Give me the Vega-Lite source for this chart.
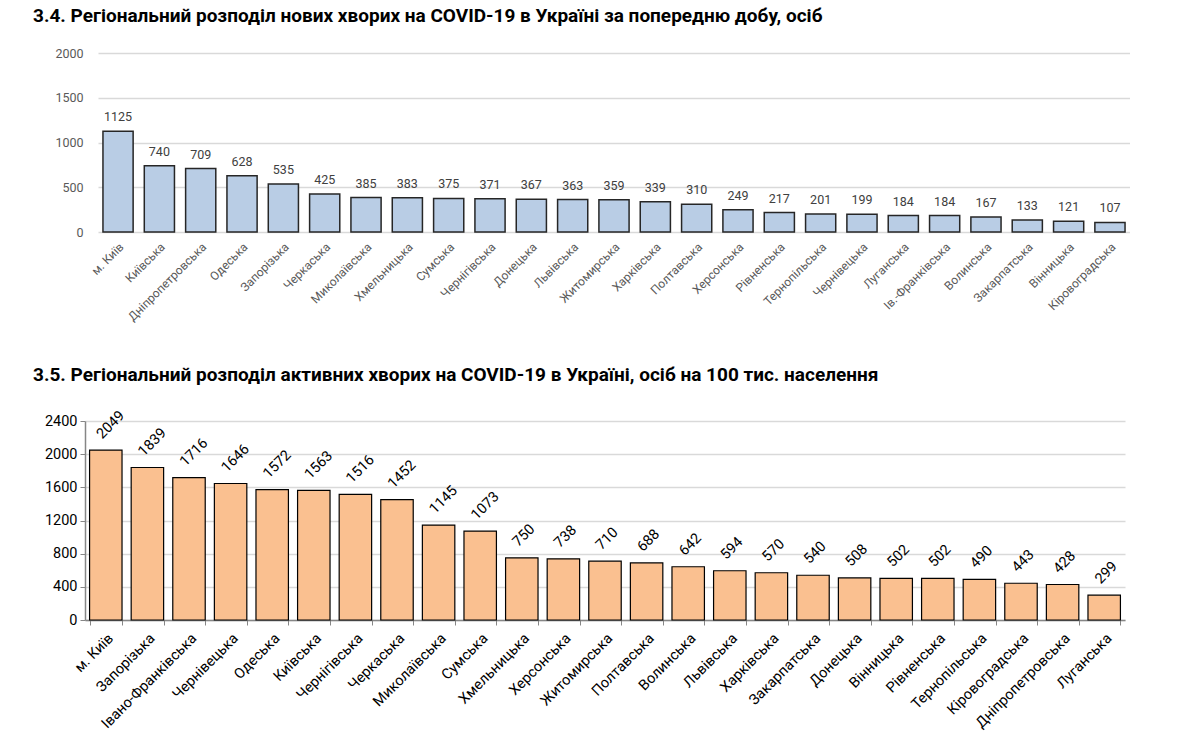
{
  "$schema": "https://vega.github.io/schema/vega-lite/v6.json",
  "padding": {"left": 33, "top": 7, "right": 0, "bottom": 0},
  "background": "white",
  "spacing": 42,
  "config": {
    "view": {"stroke": null},
    "font": "Roboto",
    "title": {"anchor": "start", "frame": "group", "fontSize": 19, "fontWeight": "bold", "color": "#000000"}
  },
  "datasets": {
    "newCases": [
      {"region": "м. Київ", "value": 1125},
      {"region": "Київська", "value": 740},
      {"region": "Дніпропетровська", "value": 709},
      {"region": "Одеська", "value": 628},
      {"region": "Запорізька", "value": 535},
      {"region": "Черкаська", "value": 425},
      {"region": "Миколаївська", "value": 385},
      {"region": "Хмельницька", "value": 383},
      {"region": "Сумська", "value": 375},
      {"region": "Чернігівська", "value": 371},
      {"region": "Донецька", "value": 367},
      {"region": "Львівська", "value": 363},
      {"region": "Житомирська", "value": 359},
      {"region": "Харківська", "value": 339},
      {"region": "Полтавська", "value": 310},
      {"region": "Херсонська", "value": 249},
      {"region": "Рівненська", "value": 217},
      {"region": "Тернопільська", "value": 201},
      {"region": "Чернівецька", "value": 199},
      {"region": "Луганська", "value": 184},
      {"region": "Ів.-Франківська", "value": 184},
      {"region": "Волинська", "value": 167},
      {"region": "Закарпатська", "value": 133},
      {"region": "Вінницька", "value": 121},
      {"region": "Кіровоградська", "value": 107}
    ],
    "active": [
      {"region": "м. Київ", "value": 2049},
      {"region": "Запорізька", "value": 1839},
      {"region": "Івано-Франківська", "value": 1716},
      {"region": "Чернівецька", "value": 1646},
      {"region": "Одеська", "value": 1572},
      {"region": "Київська", "value": 1563},
      {"region": "Чернігівська", "value": 1516},
      {"region": "Черкаська", "value": 1452},
      {"region": "Миколаївська", "value": 1145},
      {"region": "Сумська", "value": 1073},
      {"region": "Хмельницька", "value": 750},
      {"region": "Херсонська", "value": 738},
      {"region": "Житомирська", "value": 710},
      {"region": "Полтавська", "value": 688},
      {"region": "Волинська", "value": 642},
      {"region": "Львівська", "value": 594},
      {"region": "Харківська", "value": 570},
      {"region": "Закарпатська", "value": 540},
      {"region": "Донецька", "value": 508},
      {"region": "Вінницька", "value": 502},
      {"region": "Рівненська", "value": 502},
      {"region": "Тернопільська", "value": 490},
      {"region": "Кіровоградська", "value": 443},
      {"region": "Дніпропетровська", "value": 428},
      {"region": "Луганська", "value": 299}
    ]
  },
  "vconcat": [
    {
      "title": {"text": "3.4.  Регіональний розподіл нових хворих на COVID-19 в Україні за попередню добу, осіб", "dx": -52, "offset": 21},
      "width": 1045,
      "height": 179,
      "data": {"name": "newCases"},
      "encoding": {
        "x": {
          "field": "region", "type": "nominal", "sort": null,
          "scale": {"range": [13, 1045], "paddingInner": 0.27, "paddingOuter": 0.12},
          "axis": {"title": null, "labelAngle": -45, "labelColor": "#595959", "labelFontSize": 12, "ticks": false, "domain": false, "labelPadding": 9}
        },
        "y": {
          "field": "value", "type": "quantitative",
          "scale": {"domain": [0, 2000]},
          "axis": {"title": null, "format": "d", "values": [0, 500, 1000, 1500, 2000], "domain": false, "ticks": false, "labelColor": "#595959", "labelFontSize": 12.5, "labelPadding": 2, "gridColor": "#d9d9d9", "gridWidth": 1.5}
        }
      },
      "layer": [
        {"mark": {"type": "bar", "fill": "#b9cde5", "stroke": "#262626", "strokeWidth": 1.5}},
        {"mark": {"type": "text", "baseline": "bottom", "dy": -7, "color": "#404040", "fontSize": 12.5}, "encoding": {"text": {"field": "value", "type": "quantitative", "format": "d"}}}
      ]
    },
    {
      "title": {"text": "3.5.  Регіональний розподіл активних хворих на COVID-19 в Україні, осіб на 100 тис. населення", "dx": -52, "offset": 23},
      "width": 1040,
      "height": 199,
      "data": {"name": "active"},
      "encoding": {
        "x": {
          "field": "region", "type": "nominal", "sort": null,
          "scale": {"paddingInner": 0.22, "paddingOuter": 0.11},
          "axis": {"title": null, "labelAngle": -45, "labelColor": "#000000", "labelFontSize": 14.5, "tickBand": "extent", "ticks": true, "tickColor": "#868686", "tickSize": 5, "domainColor": "#868686", "domainWidth": 1.5, "labelPadding": 6}
        },
        "y": {
          "field": "value", "type": "quantitative",
          "scale": {"domain": [0, 2400]},
          "axis": {"title": null, "format": "d", "values": [0, 400, 800, 1200, 1600, 2000, 2400], "domain": true, "domainColor": "#868686", "domainWidth": 1.5, "ticks": true, "tickColor": "#868686", "tickSize": 5, "labelColor": "#000000", "labelFontSize": 14.5, "labelPadding": 3, "gridColor": "#d9d9d9", "gridWidth": 1.5}
        }
      },
      "layer": [
        {"mark": {"type": "bar", "fill": "#fac090", "stroke": "#000000", "strokeWidth": 1.2}},
        {"mark": {"type": "text", "angle": -45, "align": "left", "baseline": "middle", "dx": 5, "dy": -14, "color": "#000000", "fontSize": 14.5}, "encoding": {"text": {"field": "value", "type": "quantitative", "format": "d"}}}
      ]
    }
  ]
}
